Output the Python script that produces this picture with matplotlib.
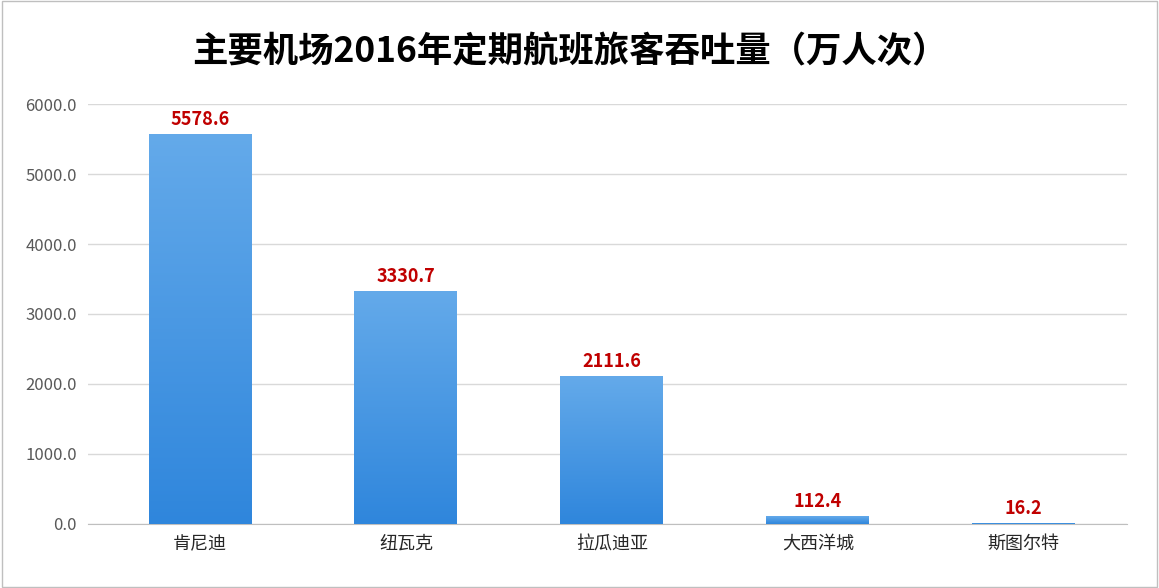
import numpy as np
import matplotlib.pyplot as plt
from matplotlib.colors import LinearSegmentedColormap

plt.rcParams['font.family'] = ['Noto Sans CJK SC', 'DejaVu Sans']

airports = ['肯尼迪', '纽瓦克', '拉瓜迪亚', '大西洋城', '斯图尔特']
passengers = [5578.6, 3330.7, 2111.6, 112.4, 16.2]

fig = plt.figure(figsize=(11.59, 5.88), dpi=100)
ax = fig.add_axes([0.076, 0.109, 0.896, 0.714])

x = np.arange(len(airports))
bars = ax.bar(x, passengers, width=0.5, color='#3f97e3', zorder=2)

# vertical gradient inside each bar
cmap = LinearSegmentedColormap.from_list('g', ['#2f86dc', '#64aaea'])
grad = np.linspace(0, 1, 256).reshape(-1, 1)
for b in bars:
    im = ax.imshow(grad, cmap=cmap, aspect='auto', origin='lower',
                   extent=[b.get_x(), b.get_x() + b.get_width(), 0, b.get_height()], zorder=3)
    im.set_clip_path(b)
    ax.text(b.get_x() + b.get_width() / 2, b.get_height() + 70, f'{b.get_height():.1f}',
            ha='center', va='bottom', color='#c00000', fontsize=13, fontweight='bold', zorder=4)

ax.set_xlim(-0.544, 4.5)
ax.set_ylim(0, 6000)
ax.set_yticks(np.arange(0, 6001, 1000))
ax.set_yticklabels([f'{v:.1f}' for v in np.arange(0, 6001, 1000)], fontsize=12, color='#595959')
ax.set_xticks(x)
ax.set_xticklabels(airports, fontsize=13, color='#262626')
ax.grid(axis='y', color='#d9d9d9', lw=1, zorder=0)
ax.tick_params(length=0, pad=8)
for s in ['top', 'right', 'left']:
    ax.spines[s].set_visible(False)
ax.spines['bottom'].set_color('#bfbfbf')

fig.text(0.492, 0.912, '主要机场2016年定期航班旅客吞吐量（万人次）', ha='center', va='center',
         fontsize=25.5, fontweight='bold', color='#000000')
fig.patches.append(plt.Rectangle((0.002, 0.002), 0.996, 0.996, transform=fig.transFigure,
                                 fill=False, ec='#bfbfbf', lw=1))

fig.savefig('out.png', dpi=100)
